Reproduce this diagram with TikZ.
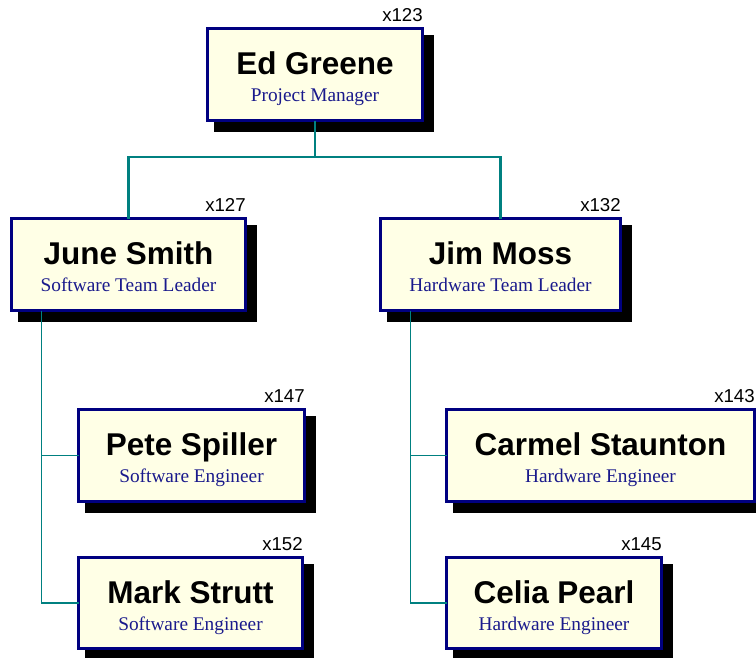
\documentclass[tikz,border=0pt]{standalone}
\usepackage{fontspec}
\setmainfont{Liberation Serif}
\newfontfamily\arialfont{Liberation Sans}
\usetikzlibrary{calc}

\definecolor{cardfill}{RGB}{255,255,230}
\definecolor{cardedge}{RGB}{0,0,128}
\definecolor{roleink}{RGB}{26,26,140}
\definecolor{linkteal}{RGB}{0,128,128}

\tikzset{
  cardbox/.style={draw=cardedge, fill=cardfill, line width=2.25pt,
    rectangle, inner sep=0pt, outer sep=0pt},
  cardshadow/.style={fill=black},
  personname/.style={font=\arialfont\bfseries\fontsize{23.6pt}{26pt}\selectfont,
    inner sep=0pt},
  rolename/.style={font=\fontsize{14.5pt}{16pt}\selectfont, text=roleink,
    inner sep=0pt},
  extlabel/.style={font=\arialfont\fontsize{14pt}{16pt}\selectfont,
    inner sep=0pt},
  mainlink/.style={draw=linkteal, line width=2pt},
  sublink/.style={draw=linkteal, line width=1.1pt},
}

% #1 node name, #2 left, #3 top, #4 right, #5 bottom (outer edges, px),
% #6 person, #7 role, #8 extension
\newcommand\staffcard[8]{%
  \fill[cardshadow] ({#2+8},{#3+8}) rectangle ({#4+10},{#5+10});
  \pgfmathsetmacro\cardw{(#4-#2-3)*0.75}%
  \pgfmathsetmacro\cardh{(#5-#3-3)*0.75}%
  \node[cardbox, minimum width=\cardw pt, minimum height=\cardh pt]
    (#1) at ({(#2+#4)/2},{(#3+#5)/2}) {};
  \node[personname, anchor=base] (#1-name) at ({(#2+#4)/2},{#3+47}) {#6};
  \node[rolename, anchor=base] (#1-role) at ({(#2+#4)/2},{#3+74}) {#7};
  \node[extlabel, anchor=base east] (#1-ext) at ({#4-1},{#3-6}) {#8};
}

\begin{document}
\begin{tikzpicture}[x=0.75pt, y=-0.75pt]
  \useasboundingbox (0,0) rectangle (756,657);

  \staffcard{ed}{206}{27}{424}{122}{Ed Greene}{Project Manager}{x123}
  \staffcard{june}{10}{217}{247}{312}{June Smith}{Software Team Leader}{x127}
  \staffcard{jim}{379}{217}{622}{312}{Jim Moss}{Hardware Team Leader}{x132}
  \staffcard{pete}{77}{408}{306}{503}{Pete Spiller}{Software Engineer}{x147}
  \staffcard{mark}{77}{556}{304}{650}{Mark Strutt}{Software Engineer}{x152}
  \staffcard{carmel}{445}{408}{756}{503}{Carmel Staunton}{Hardware Engineer}{x143}
  \staffcard{celia}{445}{556}{663}{650}{Celia Pearl}{Hardware Engineer}{x145}

  % manager to team leaders
  \coordinate (bus) at (0,157);
  \draw[mainlink] (ed.south) -- (ed.south |- bus) -| (june.north);
  \draw[mainlink] (ed.south |- bus) -| (jim.north);

  % team leaders to engineers
  \coordinate (junedrop) at ($(june.south west)+(30,0)$);
  \coordinate (jimdrop) at ($(jim.south west)+(30,0)$);
  \draw[sublink] (junedrop) |- (mark.west);
  \draw[sublink] (junedrop |- pete.west) -- (pete.west);
  \draw[sublink] (jimdrop) |- (celia.west);
  \draw[sublink] (jimdrop |- carmel.west) -- (carmel.west);
\end{tikzpicture}
\end{document}
